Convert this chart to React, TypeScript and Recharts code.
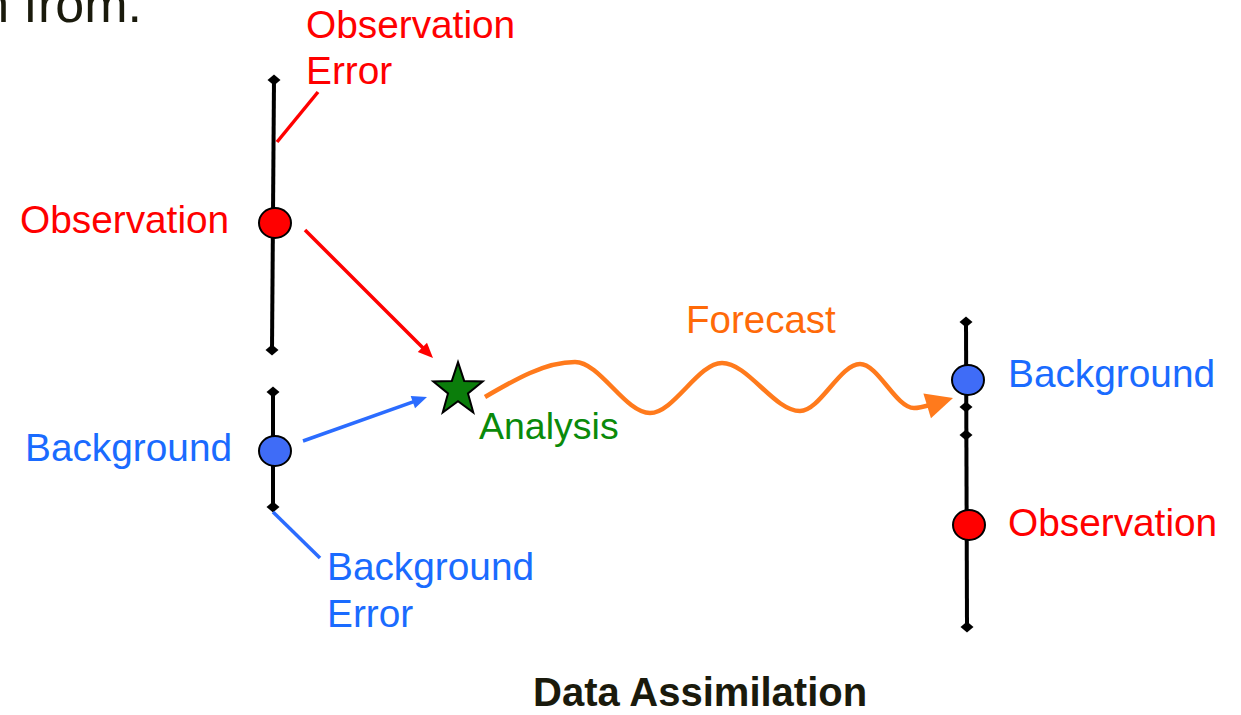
import React from "react";
import { ComposedChart, XAxis, YAxis, Scatter, Line } from "recharts";

type P = { x: number; y: number };
type L = { x: number; y: number; text: string };

// ---- diagram data (in page pixel units; axes map 1:1) ----
const obsBar: P[] = [{ x: 274, y: 80 }, { x: 272, y: 350 }];
const bgBar: P[] = [{ x: 273, y: 392 }, { x: 273, y: 507 }];
const fcBar: P[] = [{ x: 966, y: 322 }, { x: 967, y: 627 }];
const barEnds: P[] = [
  { x: 274, y: 80 }, { x: 272, y: 350 },
  { x: 273, y: 392 }, { x: 273, y: 507 },
  { x: 966, y: 322 }, { x: 966, y: 407 }, { x: 966, y: 435 }, { x: 967, y: 627 },
];
const observations: P[] = [{ x: 275, y: 223 }, { x: 969, y: 525 }];
const backgrounds: P[] = [{ x: 275, y: 451 }, { x: 968, y: 380 }];
const analysisPoint: P[] = [{ x: 458, y: 390 }];

const obsErrorLine: P[] = [{ x: 318, y: 92 }, { x: 277, y: 142 }];
const bgErrorLine: P[] = [{ x: 273, y: 512 }, { x: 320, y: 558 }];
const obsArrow: P[] = [{ x: 305, y: 230 }, { x: 433, y: 358 }];
const bgArrow: P[] = [{ x: 303, y: 441 }, { x: 427, y: 397 }];
const forecastWave: P[] = [
  { x: 485, y: 397 }, { x: 575, y: 362 }, { x: 650, y: 413 }, { x: 722, y: 363 },
  { x: 800, y: 411 }, { x: 860, y: 364 }, { x: 914, y: 408 }, { x: 930, y: 405 },
];
const forecastTip: P[] = [{ x: 953, y: 398 }];

const obsLabels: L[] = [
  { x: 306, y: 38, text: "Observation" },
  { x: 306, y: 84, text: "Error" },
  { x: 20, y: 233, text: "Observation" },
  { x: 1008, y: 536, text: "Observation" },
];
const bgLabels: L[] = [
  { x: 25, y: 461, text: "Background" },
  { x: 327, y: 580, text: "Background" },
  { x: 327, y: 627, text: "Error" },
  { x: 1008, y: 387, text: "Background" },
];
const analysisLabels: L[] = [{ x: 479, y: 439, text: "Analysis" }];
const forecastLabels: L[] = [{ x: 686, y: 333, text: "Forecast" }];
const titleLabels: L[] = [{ x: 533, y: 706, text: "Data Assimilation" }];
const headerLabels: L[] = [{ x: 142, y: 22, text: "n from." }];

// ---- styling ----
const W = 1241;
const H = 715;
const FONT = "'Liberation Sans', Arial, Helvetica, sans-serif";
const RED = "#ff0000";
const BLUE_TXT = "#1a6bff";
const BLUE_LINE = "#2b6cff";
const BLUE_FILL = "#3f6cf7";
const GREEN = "#0a8a0a";
const STAR_GREEN = "#0b7d0b";
const ORANGE_TXT = "#ff6a08";
const ORANGE = "#ff7a1c";
const DARK = "#1a1a0c";

const Empty = () => <g />;

const Diamond = (props: any) => {
  const { cx, cy } = props;
  const rx = 6.5;
  const ry = 5.5;
  return (
    <polygon
      points={`${cx},${cy - ry} ${cx + rx},${cy} ${cx},${cy + ry} ${cx - rx},${cy}`}
      fill="#000"
    />
  );
};

const makeEllipse = (fill: string) => (props: any) => (
  <ellipse cx={props.cx} cy={props.cy} rx={16} ry={15} fill={fill} stroke="#000" strokeWidth={2} />
);

const Star = (props: any) => {
  const { cx, cy } = props;
  const R = 26;
  const r = 10.5;
  const sy = 1.07;
  const pts: string[] = [];
  for (let i = 0; i < 10; i++) {
    const rad = i % 2 === 0 ? R : r;
    const a = -Math.PI / 2 + (i * Math.PI) / 5;
    pts.push(`${cx + rad * Math.cos(a)},${cy + rad * Math.sin(a) * sy}`);
  }
  return <polygon points={pts.join(" ")} fill={STAR_GREEN} stroke="#000" strokeWidth={2} strokeLinejoin="miter" />;
};

const makeText =
  (color: string, size: number, weight: string = "normal", anchor: string = "start") =>
  (props: any) =>
    (
      <text
        x={props.cx}
        y={props.cy}
        fill={color}
        fontSize={size}
        fontFamily={FONT}
        fontWeight={weight}
        textAnchor={anchor}
      >
        {props.payload.text}
      </text>
    );

const makeHead = (from: P, color: string, len: number, half: number) => (props: any) => {
  const { cx, cy, payload } = props;
  const a = Math.atan2(payload.y - from.y, payload.x - from.x);
  const ux = Math.cos(a);
  const uy = Math.sin(a);
  const bx = cx - ux * len;
  const by = cy - uy * len;
  const px = -uy * half;
  const py = ux * half;
  return <polygon points={`${cx},${cy} ${bx + px},${by + py} ${bx - px},${by - py}`} fill={color} />;
};

// shaft of an arrow, stopping inside the head
const shaft = (seg: P[], back: number): P[] => {
  const [s, t] = seg;
  const a = Math.atan2(t.y - s.y, t.x - s.x);
  return [s, { x: t.x - Math.cos(a) * back, y: t.y - Math.sin(a) * back }];
};

export default function App() {
  const lastWave = forecastWave[forecastWave.length - 1];
  return (
    <div style={{ position: "absolute", left: 0, top: 0, width: W, height: H, background: "#fff" }}>
      <ComposedChart width={W} height={H} margin={{ top: 0, right: 0, bottom: 0, left: 0 }}>
        <XAxis type="number" dataKey="x" domain={[0, W]} hide />
        <YAxis type="number" dataKey="y" domain={[0, H]} reversed hide />

        {/* vertical bars */}
        <Scatter data={obsBar} line={{ stroke: "#000", strokeWidth: 4 }} shape={Empty} isAnimationActive={false} />
        <Scatter data={bgBar} line={{ stroke: "#000", strokeWidth: 4 }} shape={Empty} isAnimationActive={false} />
        <Scatter data={fcBar} line={{ stroke: "#000", strokeWidth: 4 }} shape={Empty} isAnimationActive={false} />
        <Scatter data={barEnds} shape={Diamond} isAnimationActive={false} />

        {/* error leader lines */}
        <Scatter data={obsErrorLine} line={{ stroke: RED, strokeWidth: 3.5 }} shape={Empty} isAnimationActive={false} />
        <Scatter data={bgErrorLine} line={{ stroke: BLUE_LINE, strokeWidth: 3.5 }} shape={Empty} isAnimationActive={false} />

        {/* arrows into analysis */}
        <Scatter data={shaft(obsArrow, 8)} line={{ stroke: RED, strokeWidth: 3.5 }} shape={Empty} isAnimationActive={false} />
        <Scatter data={[obsArrow[1]]} shape={makeHead(obsArrow[0], RED, 15, 6.5)} isAnimationActive={false} />
        <Scatter data={shaft(bgArrow, 8)} line={{ stroke: BLUE_LINE, strokeWidth: 3.5 }} shape={Empty} isAnimationActive={false} />
        <Scatter data={[bgArrow[1]]} shape={makeHead(bgArrow[0], BLUE_LINE, 15, 6.5)} isAnimationActive={false} />

        {/* forecast wave */}
        <Line
          data={forecastWave}
          dataKey="y"
          type="monotone"
          stroke={ORANGE}
          strokeWidth={4.5}
          dot={false}
          activeDot={false}
          isAnimationActive={false}
        />
        <Scatter data={forecastTip} shape={makeHead(lastWave, ORANGE, 27, 13)} isAnimationActive={false} />

        {/* points */}
        <Scatter data={observations} shape={makeEllipse(RED)} isAnimationActive={false} />
        <Scatter data={backgrounds} shape={makeEllipse(BLUE_FILL)} isAnimationActive={false} />
        <Scatter data={analysisPoint} shape={Star} isAnimationActive={false} />

        {/* labels */}
        <Scatter data={obsLabels} shape={makeText(RED, 38.8)} isAnimationActive={false} />
        <Scatter data={bgLabels} shape={makeText(BLUE_TXT, 38.8)} isAnimationActive={false} />
        <Scatter data={analysisLabels} shape={makeText(GREEN, 37.5)} isAnimationActive={false} />
        <Scatter data={forecastLabels} shape={makeText(ORANGE_TXT, 38.5)} isAnimationActive={false} />
        <Scatter data={titleLabels} shape={makeText(DARK, 40, "bold")} isAnimationActive={false} />
        <Scatter data={headerLabels} shape={makeText(DARK, 52, "normal", "end")} isAnimationActive={false} />
      </ComposedChart>
    </div>
  );
}
